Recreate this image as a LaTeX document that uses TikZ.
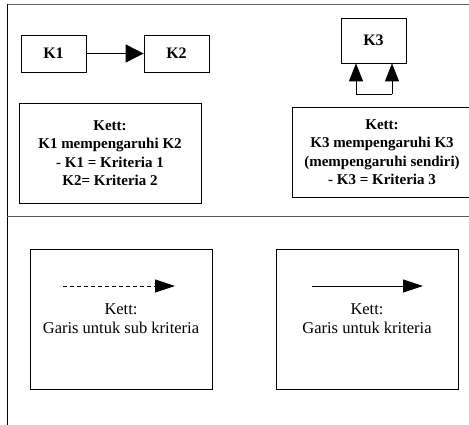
\documentclass[tikz,border=0pt]{standalone}
\usepackage{fontspec}
\setmainfont{Liberation Serif}
\usepackage{tikz}
\usetikzlibrary{arrows.meta}

\begin{document}
\begin{tikzpicture}[x=1pt, y=-1pt, line width=0.8pt,
    kbox/.style={draw, minimum width=65pt, minimum height=37pt, inner sep=0pt, font=\bfseries\fontsize{16}{18}\selectfont},
    ketbox/.style={draw, inner sep=0pt, align=center, font=\bfseries\fontsize{15}{18.5}\selectfont},
    garbox/.style={draw, minimum width=182pt, minimum height=140pt, inner sep=0pt},
    gartext/.style={align=center, font=\fontsize{16.5}{19}\selectfont},
    bigtip/.style={-{Triangle[length=18pt, width=18pt]}},
    uptip/.style={-{Triangle[length=18pt, width=14pt]}},
    legtip/.style={-{Triangle[length=20pt, width=13pt]}}]
    \useasboundingbox (0,0) rectangle (469,425);
    % frame
    \draw[gray!80!black] (7,4) -- (469,4);
    \draw (7,4) -- (7,425);
    \draw[gray!70!black] (7,216) -- (469,216);
    % K1 -> K2
    \node (k1) at (53.5,53.5) [kbox] {K1};
    \node (k2) at (176.5,53.5) [kbox] {K2};
    \draw[bigtip] (k1) -- (k2);
    \node (ket1) at (110,153) [ketbox, minimum width=182pt, minimum height=100pt] {Kett:\\K1 mempengaruhi K2\\- K1 = Kriteria 1\\K2= Kriteria 2};
    % K3 loop
    \node (k3) at (373.5,40.5) [kbox, minimum height=45pt] {K3};
    \coordinate (la) at (356,94);
    \coordinate (lb) at (392,94);
    \draw (la) -- (lb);
    \draw[uptip] (la) -- (la |- k3.south);
    \draw[uptip] (lb) -- (lb |- k3.south);
    \node (ket2) at (382,152) [ketbox, minimum width=180pt, minimum height=90pt] {Kett:\\K3 mempengaruhi K3\\(mempengaruhi sendiri)\\- K3 = Kriteria 3};
    % legend
    \node (sub) at (121,319) [garbox] {};
    \coordinate (sa) at (63,286);
    \coordinate (sb) at (175,286);
    \draw[legtip, dash pattern=on 4pt off 3pt] (sa) -- (sb);
    \node (subtxt) at (121,318.5) [gartext] {Kett:\\Garis untuk sub kriteria};
    \node (kri) at (367,319) [garbox] {};
    \coordinate (ka) at (312,286);
    \coordinate (kb) at (423,286);
    \draw[legtip] (ka) -- (kb);
    \node (kritxt) at (367,318.5) [gartext] {Kett:\\Garis untuk kriteria};
  \end{tikzpicture}
\end{document}
